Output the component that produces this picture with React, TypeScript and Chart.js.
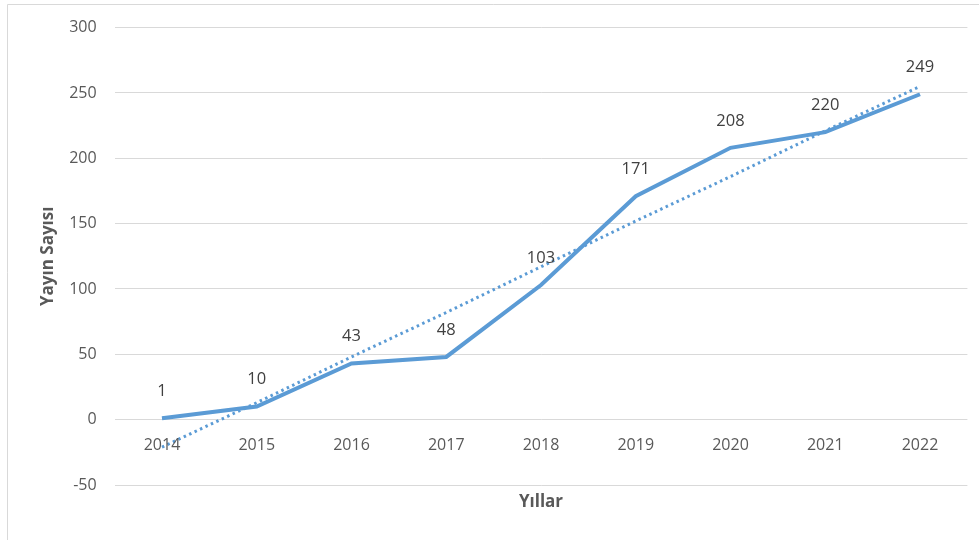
import React, { useEffect, useRef } from "react";
import { Chart, registerables } from "chart.js";

Chart.register(...registerables);

const years = ["2014", "2015", "2016", "2017", "2018", "2019", "2020", "2021", "2022"];
const publications = [1, 10, 43, 48, 103, 171, 208, 220, 249];
const trendValues = [-21, 13, 48, 82, 117, 152, 186, 221, 255];
const yTitle = "Yayın Sayısı";
const xTitle = "Yıllar";

const FONT = "'Open Sans', 'Liberation Sans', sans-serif";
const BLUE = "#5B9BD5";
const TEXT = "#595959";

const framePlugin = {
  id: "frame",
  beforeDraw(chart: any) {
    const ctx = chart.ctx;
    ctx.save();
    ctx.fillStyle = "#ffffff";
    ctx.fillRect(0, 0, chart.width, chart.height);
    ctx.strokeStyle = "#d9d9d9";
    ctx.lineWidth = 1;
    ctx.beginPath();
    ctx.moveTo(7.5, chart.height);
    ctx.lineTo(7.5, 4.5);
    ctx.lineTo(chart.width, 4.5);
    ctx.stroke();
    ctx.restore();
  },
};

const labelsPlugin = {
  id: "customLabels",
  afterDatasetsDraw(chart: any) {
    const ctx = chart.ctx;
    const xs = chart.scales.x;
    const ys = chart.scales.y;
    ctx.save();
    ctx.font = `16px ${FONT}`;
    ctx.fillStyle = TEXT;
    ctx.textAlign = "center";
    ctx.textBaseline = "middle";
    const y0 = ys.getPixelForValue(0);
    years.forEach((yr, i) => {
      ctx.fillText(yr, xs.getPixelForValue(i), y0 + 26);
    });
    ctx.fillStyle = "#404040";
    ctx.font = `16.5px ${FONT}`;
    const meta = chart.getDatasetMeta(0);
    meta.data.forEach((pt: any, i: number) => {
      ctx.fillText(String(publications[i]), pt.x, pt.y - 27);
    });
    ctx.restore();
  },
};

export default function App() {
  const ref = useRef<HTMLCanvasElement | null>(null);
  useEffect(() => {
    if (!ref.current) return;
    const chart = new Chart(ref.current, {
      type: "line",
      data: {
        labels: years,
        datasets: [
          {
            label: "Yayın",
            data: publications,
            borderColor: BLUE,
            backgroundColor: BLUE,
            borderWidth: 4,
            pointRadius: 0,
            tension: 0,
            order: 1,
          },
          {
            label: "Trend",
            data: trendValues,
            borderColor: BLUE,
            borderWidth: 3,
            borderDash: [2.5, 3.5],
            pointRadius: 0,
            tension: 0,
            order: 2,
          },
        ],
      },
      options: {
        responsive: false,
        animation: false,
        layout: { padding: { left: 34, right: 11.6, top: 27.5, bottom: 26.6 } },
        plugins: {
          legend: { display: false },
          tooltip: { enabled: false },
        },
        scales: {
          x: {
            offset: true,
            grid: { display: false, drawTicks: false },
            border: { display: false },
            ticks: { display: false },
            title: {
              display: true,
              text: xTitle,
              color: TEXT,
              font: { family: FONT, size: 17, weight: "bold" },
              padding: { top: 7, bottom: 1 },
            },
          },
          y: {
            min: -50,
            max: 300,
            afterFit: (s: any) => {
              s.width = 80.6;
            },
            ticks: {
              stepSize: 50,
              padding: 18,
              color: TEXT,
              font: { family: FONT, size: 16 },
            },
            grid: { color: "#d9d9d9", lineWidth: 1, drawTicks: false },
            border: { display: false },
            title: {
              display: true,
              text: yTitle,
              color: TEXT,
              font: { family: FONT, size: 17, weight: "bold" },
              padding: { top: 4, bottom: 4 },
            },
          },
        },
      },
      plugins: [framePlugin, labelsPlugin],
    });
    return () => chart.destroy();
  }, []);
  return (
    <div style={{ position: "fixed", left: 0, top: 0, width: 979, height: 540, background: "#fff" }}>
      <canvas ref={ref} width={979} height={540} style={{ display: "block" }} />
    </div>
  );
}
